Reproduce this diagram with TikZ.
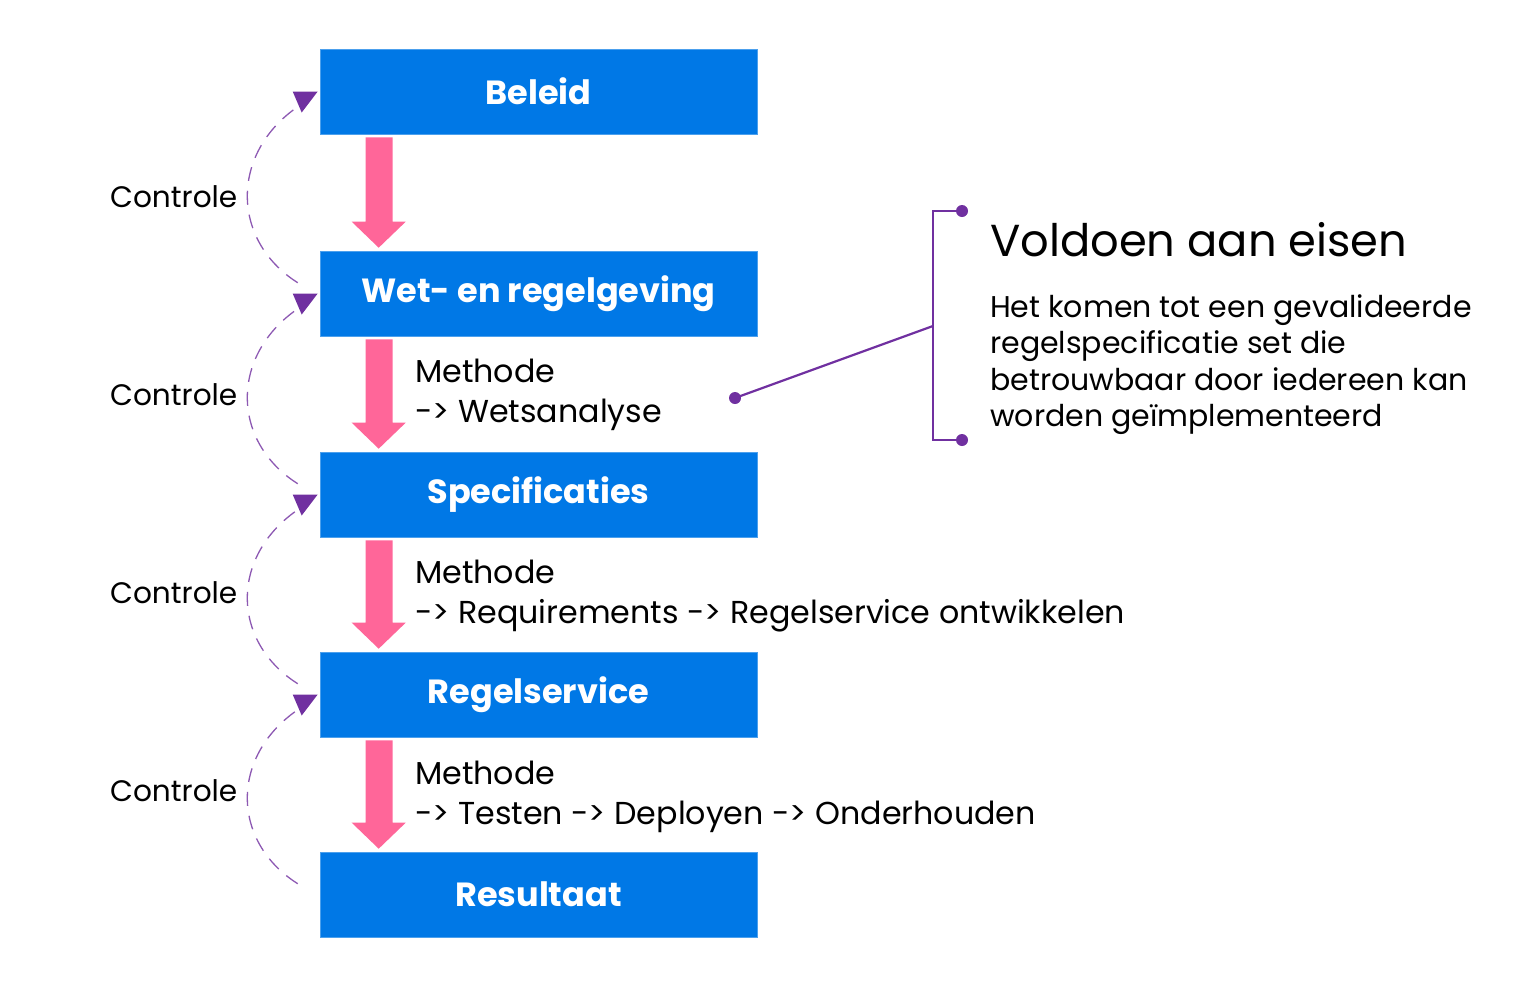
\documentclass[tikz,border=0pt]{standalone}
\usepackage{fontspec}
\setmainfont{Poppins}
\usetikzlibrary{calc}
\definecolor{boxblue}{RGB}{0,120,230}
\definecolor{arrpink}{RGB}{255,102,153}
\definecolor{lilac}{RGB}{112,48,160}
\tikzset{
  box/.style={fill=boxblue, draw=boxblue!70!white, line width=0.6pt, minimum width=437pt, minimum height=85pt, inner sep=0pt, text=white, font=\fontsize{33.5}{40}\selectfont\bfseries},
  ctrl/.style={anchor=west, inner sep=0pt, font=\fontsize{29.6}{36}\selectfont},
  meth/.style={anchor=north west, inner sep=0pt, align=left, font=\fontsize{31.7}{39.5}\selectfont},
  arc/.style={draw=lilac!80!white, line width=1.3pt, dash pattern=on 14pt off 10pt},
  dotn/.style={circle, fill=lilac, inner sep=0pt, minimum size=12pt},
  brk/.style={draw=lilac, line width=2.2pt}
}
\newcommand{\pinkdown}[2]{%
  \fill[arrpink] ($(#1.south west)+(46,3)$) -- ($(#1.south west)+(73,3)$) -- ($(#2.north west)+(73,-29)$) -- ($(#2.north west)+(86,-29)$) -- ($(#2.north west)+(59,-3)$) -- ($(#2.north west)+(32,-29)$) -- ($(#2.north west)+(46,-29)$) -- cycle;}
\newcommand{\ctrlarc}[2]{%
  \draw[arc] ($(#2.north west)+(-22,32)$) .. controls ($(#2.north west)+(-90,-11)$) and ($(#1.west)+(-90,58)$) .. ($(#1.west)+(-17,12)$);
  \fill[lilac] ($(#1.west)+(-27,0)$) -- ($(#1.west)+(-2,0)$) -- ($(#1.west)+(-18,21)$) -- cycle;}
\begin{document}
\begin{tikzpicture}[x=1pt,y=-1pt]
\useasboundingbox (0,0) rectangle (1540,1002);
\node[box] (b1) at (538.5,91.5) {Beleid};
\node[box] (b2) at (538.5,293.5) {Wet- en regelgeving};
\node[box] (b3) at (538.5,494.5) {Specificaties};
\node[box] (b4) at (538.5,694.5) {Regelservice};
\node[box] (b5) at (538.5,894.5) {Resultaat};
\pinkdown{b1}{b2}
\pinkdown{b2}{b3}
\pinkdown{b3}{b4}
\pinkdown{b4}{b5}
\ctrlarc{b1}{b2}
\ctrlarc{b2}{b3}
\ctrlarc{b3}{b4}
\ctrlarc{b4}{b5}
\node[ctrl] (c1) at (110,197) {Controle};
\node[ctrl] (c2) at (110,395) {Controle};
\node[ctrl] (c3) at (110,593) {Controle};
\node[ctrl] (c4) at (110,791) {Controle};
\node[meth] (m1) at (415,359) {Methode\\-> Wetsanalyse};
\node[meth] (m2) at (415,560) {Methode\\-> Requirements -> Regelservice ontwikkelen};
\node[meth] (m3) at (415,761) {Methode\\-> Testen -> Deployen -> Onderhouden};
\node[anchor=west, inner sep=0pt, font=\fontsize{44.8}{50}\selectfont] (vt) at (990,240) {Voldoen aan eisen};
\node[anchor=north west, inner sep=0pt, align=left, font=\fontsize{30}{36.5}\selectfont] (vb) at (990,294) {Het komen tot een gevalideerde\\regelspecificatie set die\\betrouwbaar door iedereen kan\\worden geïmplementeerd};
\node[dotn] (d0) at (735,398) {};
\node[dotn] (dt) at (962,211) {};
\node[dotn] (db) at (962,440) {};
\coordinate (bmid) at (933,326);
\draw[brk] (dt.center) -| (bmid) |- (db.center);
\draw[brk] (d0.center) -- (bmid);
\end{tikzpicture}
\end{document}
